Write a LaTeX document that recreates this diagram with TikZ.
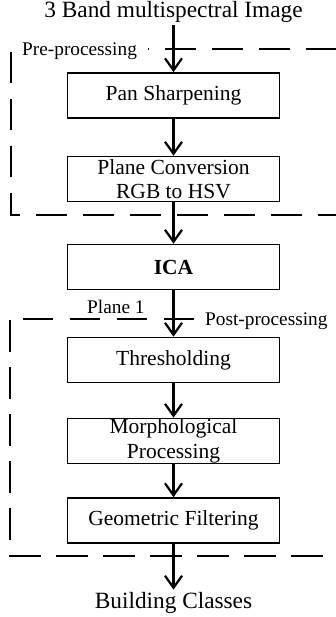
\documentclass[tikz,border=0pt]{standalone}
\usepackage{fontspec}
\setmainfont{Liberation Serif}
\usetikzlibrary{arrows.meta}

\begin{document}
\begin{tikzpicture}[x=1pt, y=-1pt, >={Straight Barb[length=12pt,width=17pt]},
  stepbox/.style={draw, line width=1.6pt, minimum width=212pt, minimum height=45pt,
    inner sep=0pt, align=center, font=\fontsize{21.5}{24.5}\selectfont},
  endtext/.style={inner sep=2pt, font=\fontsize{23.3}{26}\selectfont},
  grouptext/.style={inner sep=0pt, font=\fontsize{19.3}{22}\selectfont},
  flow/.style={->, line width=2.2pt},
  groupline/.style={line width=1.3pt, dash pattern=on 31pt off 16pt}]
  \useasboundingbox (0,0) rectangle (336,617);
  % input and output
  \node[endtext, anchor=base] (title) at (173.5,18) {3 Band multispectral Image};
  \node[endtext, anchor=base] (classes) at (173.5,608) {Building Classes};
  % processing steps
  \node[stepbox] (pan) at (173.5,95.5) {Pan Sharpening};
  \node[stepbox] (plane) at (173.5,179) {Plane Conversion\\RGB to HSV};
  \node[stepbox, font=\fontsize{21.5}{24.5}\selectfont\bfseries] (ica) at (173.5,267) {ICA};
  \node[stepbox] (thresh) at (173.5,360) {Thresholding};
  \node[stepbox] (morph) at (173.5,441) {Morphological\\Processing};
  \node[stepbox] (geo) at (173.5,520.5) {Geometric Filtering};
  % arrows
  \foreach \a/\b in {title/pan, pan/plane, plane/ica, ica/thresh, thresh/morph, morph/geo, geo/classes}
    \draw[flow] (\a) -- (\b);
  % pre-processing frame
  \node[grouptext, anchor=base west] (prelabel) at (22,56) {Pre-processing};
  \draw[groupline, dash phase=30pt] (148,49) -- (336,49);
  \draw[groupline] (11,52) -- (11,215) -- (336,215);
  % post-processing frame
  \node[grouptext, anchor=base west] (planelabel) at (87,313) {Plane 1};
  \node[grouptext, anchor=base west] (postlabel) at (205,325) {Post-processing};
  \draw[groupline, dash pattern=on 30pt off 17pt] (23,319) -- (195,319);
  \draw[groupline, dash pattern=on 32pt off 15pt] (10,320) -- (10,556) -- (336,556);
\end{tikzpicture}
\end{document}
